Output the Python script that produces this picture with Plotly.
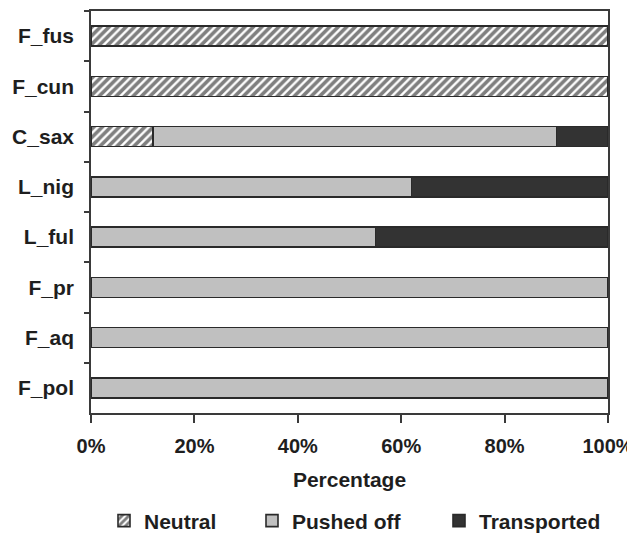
import plotly.graph_objects as go

categories = ["F_fus", "F_cun", "C_sax", "L_nig", "L_ful", "F_pr", "F_aq", "F_pol"]
neutral = [100, 100, 12, 0, 0, 0, 0, 0]
pushed_off = [0, 0, 78, 62, 55, 100, 100, 100]
transported = [0, 0, 10, 38, 45, 0, 0, 0]
x_ticks = [0, 20, 40, 60, 80, 100]
x_tick_labels = ["0%", "20%", "40%", "60%", "80%", "100%"]

FONT = "Liberation Sans, Arial, sans-serif"
INK = "#1e1e1e"
line = dict(color="#2a2a2a", width=1.6)

W, H = 627, 526

fig = go.Figure()
fig.add_trace(go.Bar(
    y=categories, x=neutral, name="Neutral", orientation="h", legend="legend",
    marker=dict(color="white", line=line,
                pattern=dict(shape="/", fgcolor="#000000", bgcolor="white", size=6, solidity=0.6)),
))
fig.add_trace(go.Bar(
    y=categories, x=pushed_off, name="Pushed off", orientation="h", legend="legend2",
    marker=dict(color="#c0c0c0", line=line),
))
fig.add_trace(go.Bar(
    y=categories, x=transported, name="Transported", orientation="h", legend="legend3",
    marker=dict(color="#333333", line=line),
))

def leg(xpix):
    return dict(orientation="h", xref="container", yref="container",
                x=xpix / W, xanchor="left", y=1 - 513 / H, yanchor="middle",
                bgcolor="rgba(0,0,0,0)", borderwidth=0,
                font=dict(family=FONT, size=21, color=INK, weight="bold"),
                itemwidth=30)

fig.update_layout(
    width=W, height=H,
    barmode="stack", bargap=0.6,
    plot_bgcolor="white", paper_bgcolor="white",
    margin=dict(l=83, r=27, t=3, b=121, autoexpand=False),
    font=dict(family=FONT, size=20, color=INK),
    showlegend=True,
    legend=leg(122 - 26),
    legend2=leg(268 - 24),
    legend3=leg(456 - 25),
)
fig.update_xaxes(
    range=[0, 100], tickvals=x_ticks, ticktext=x_tick_labels,
    showgrid=False, zeroline=False, automargin=False,
    showline=True, linecolor="#3a3a3a", linewidth=1.6, mirror=True,
    ticks="outside", ticklen=8, tickcolor="#3a3a3a", tickwidth=1.6,
    tickfont=dict(family=FONT, size=20, weight="bold", color=INK),
    ticklabelstandoff=6,
    title=dict(text="Percentage", font=dict(family=FONT, size=21, weight="bold", color=INK), standoff=17),
)
fig.update_yaxes(
    type="category", categoryorder="array", categoryarray=categories, autorange="reversed",
    showgrid=False, zeroline=False, automargin=False,
    showline=True, linecolor="#3a3a3a", linewidth=1.6, mirror=True,
    ticks="outside", ticklen=5, tickcolor="#3a3a3a", tickwidth=1.6, tickson="boundaries",
    tickfont=dict(family=FONT, size=21, weight="bold", color=INK),
    ticklabelstandoff=11,
)

fig.write_html("out.html")
